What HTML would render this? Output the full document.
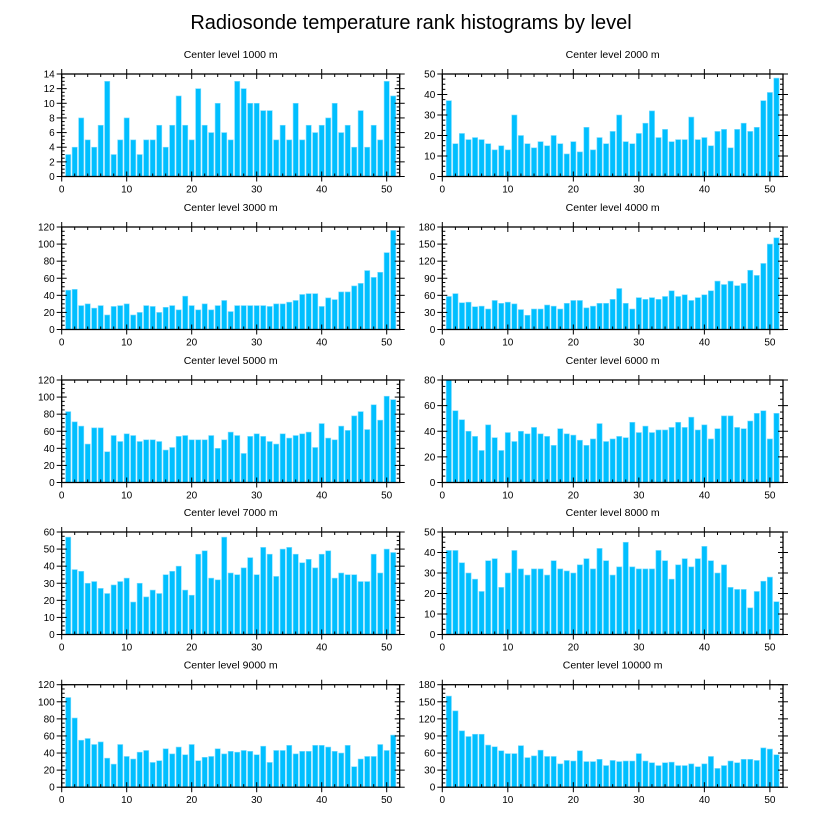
<!DOCTYPE html>
<html><head><meta charset="utf-8"><style>
body{margin:0;background:#fff;}
svg{display:block;font-family:"Liberation Sans",sans-serif;}
</style></head><body>
<svg id="c" width="822" height="824">
<text x="411" y="29" text-anchor="middle" font-size="20">Radiosonde temperature rank histograms by level</text>
</svg>
<script>
const titles=["Center level 1000 m","Center level 2000 m","Center level 3000 m","Center level 4000 m","Center level 5000 m","Center level 6000 m","Center level 7000 m","Center level 8000 m","Center level 9000 m","Center level 10000 m"];
const yMaxes=[14,50,120,180,120,80,60,50,120,180];
const yMajors=[2,10,20,30,20,20,10,10,20,30];
const xTicks=[0,10,20,30,40,50];
const lvl1000=[3,4,8,5,4,7,13,3,5,8,5,3,5,5,7,4,7,11,7,5,12,7,6,10,6,5,13,12,10,10,9,9,5,7,5,10,5,7,6,7,8,10,6,7,4,9,4,7,5,13,11];
const lvl2000=[37,16,21,18,19,18,16,13,15,13,30,20,16,14,17,15,20,16,11,17,12,24,13,19,16,22,30,17,16,21,26,32,19,23,17,18,18,29,18,19,15,22,23,14,23,26,22,24,37,41,48];
const lvl3000=[46,47,28,30,25,28,17,27,28,30,17,20,28,27,20,26,28,23,39,28,23,30,23,28,34,21,28,28,28,28,28,27,30,30,32,34,41,42,42,27,37,35,44,44,51,54,69,61,67,90,116];
const lvl4000=[58,63,47,48,40,41,36,51,46,48,45,35,25,36,36,43,41,36,46,51,51,38,41,46,46,53,72,46,36,56,53,56,53,58,68,58,61,51,56,61,68,85,79,85,77,81,104,95,116,150,161];
const lvl5000=[83,71,66,45,64,64,36,55,48,57,55,48,50,50,48,38,41,54,55,50,50,50,55,40,50,59,55,34,54,57,54,48,45,57,52,55,57,59,41,69,52,50,66,61,78,83,62,91,73,101,97];
const lvl6000=[80,56,49,40,36,25,45,35,25,39,32,40,38,43,38,36,29,42,38,37,33,29,34,46,32,34,36,35,47,39,44,39,41,41,43,47,43,51,41,45,34,42,52,52,43,42,48,54,56,34,54];
const lvl7000=[57,38,37,30,31,27,24,29,31,33,19,30,22,26,24,35,37,40,26,23,47,49,33,32,57,36,35,39,45,35,51,47,34,50,51,47,42,44,39,47,49,33,36,35,35,31,31,47,36,50,48];
const lvl8000=[41,41,35,30,27,21,36,37,23,30,41,32,29,32,32,29,36,32,31,30,34,37,32,42,36,29,33,45,33,32,32,32,41,36,27,34,37,33,37,43,36,30,34,23,22,22,13,21,26,28,16];
const lvl9000=[105,81,55,57,50,53,34,27,50,36,33,41,43,29,31,45,39,47,38,50,31,35,36,45,39,42,41,43,42,38,48,29,43,43,49,39,42,42,49,49,47,42,40,49,24,33,36,36,50,43,61];
const lvl10000=[160,134,99,89,93,93,74,71,64,59,59,73,52,55,65,54,54,41,47,46,64,45,45,49,38,47,45,46,46,59,46,43,38,43,44,38,38,41,36,41,54,33,38,46,43,49,49,47,69,67,57];
const series=[lvl1000,lvl2000,lvl3000,lvl4000,lvl5000,lvl6000,lvl7000,lvl8000,lvl9000,lvl10000];

const NS="http://www.w3.org/2000/svg";
const svg=document.getElementById('c');
function mk(tag,attrs,parent){const e=document.createElementNS(NS,tag);for(const k in attrs)e.setAttribute(k,attrs[k]);(parent||svg).appendChild(e);return e;}
const tops=[74,227,380,532,684.7];
const lefts=[61.7,442.3], rights=[399.7,783];
const H=102.5;
series.forEach((vals,p)=>{
  const col=p%2,row=Math.floor(p/2);
  const x0=lefts[col],x1=rights[col],top=tops[row],bot=top+H;
  const ymax=yMaxes[p],ymaj=yMajors[p];
  const sx=v=>x0+(x1-x0)*v/52;
  const sy=v=>bot-H*v/ymax;
  const g=mk('g',{});
  
  
  const t=mk('text',{x:(x0+x1)/2,y:top-16,'text-anchor':'middle','font-size':'10.5'},g);
  t.textContent=titles[p];
  
  
  vals.forEach((v,i)=>{
    const c=i+1;
    const r=mk('rect',{x:sx(c-0.4),y:sy(v),width:sx(0.8)-sx(0),height:bot-sy(v),fill:'#00bfff',stroke:'#7fdcff','stroke-width':'0.6'},g);
    
    
  });
  const f=mk('rect',{x:x0,y:top,width:x1-x0,height:H,fill:'none',stroke:'#000','stroke-width':'1.3'},g);
  
  
  // x ticks
  for(let v=0;v<=52;v+=2){
    const X=sx(v),maj=v%10===0;
    const L=maj?5:3;
    mk('line',{x1:X,x2:X,y1:bot-L,y2:bot+(maj?5:0),stroke:'#000','stroke-width':'1'},g);
    mk('line',{x1:X,x2:X,y1:top+L,y2:top-(maj?5:0),stroke:'#000','stroke-width':'1'},g);
  }
  xTicks.forEach(v=>{
    const tl=mk('text',{x:sx(v),y:bot+16,'text-anchor':'middle','font-size':'10'},g);
    tl.textContent=v;
    
    
  });
  // y ticks
  const mstep=ymaj/4;
  for(let k=0;k*mstep<=ymax+1e-9;k++){
    const v=k*mstep,Y=sy(v),maj=k%4===0;
    const L=maj?5:3;
    mk('line',{x1:x0-(maj?5:0),x2:x0+L,y1:Y,y2:Y,stroke:'#000','stroke-width':'1'},g);
    mk('line',{x1:x1+(maj?5:0),x2:x1-L,y1:Y,y2:Y,stroke:'#000','stroke-width':'1'},g);
    if(maj){
      const yl=mk('text',{x:x0-7,y:Y+3.5,'text-anchor':'end','font-size':'10'},g);
      yl.textContent=v;
      
      
    }
  }
});
</script>
</body></html>
